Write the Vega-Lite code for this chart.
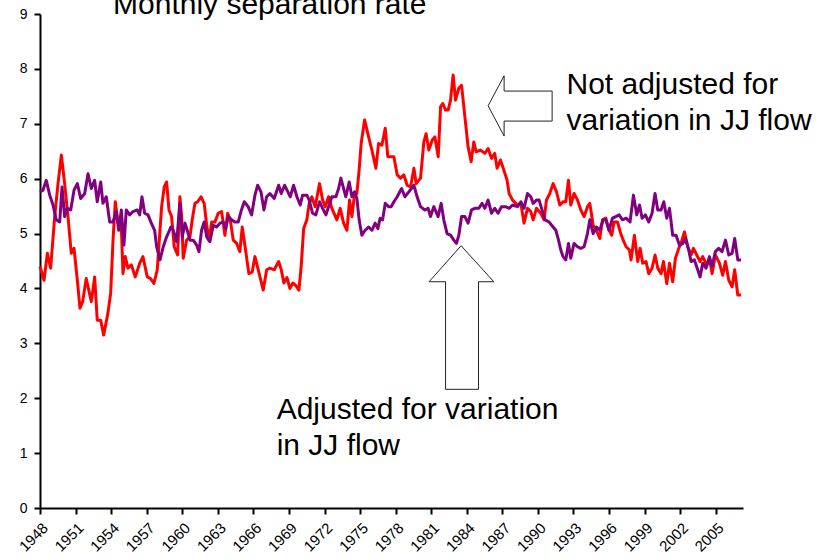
{
  "$schema": "https://vega.github.io/schema/vega-lite/v6.json",
  "width": 703,
  "height": 494,
  "autosize": {"type": "none"},
  "padding": {"left": 40, "top": 14, "right": 77, "bottom": 52},
  "background": "white",
  "config": {
    "view": {"stroke": null},
    "font": "Liberation Sans",
    "axis": {"grid": false, "domainColor": "black", "domainWidth": 2, "tickColor": "black", "tickWidth": 2, "labelColor": "black", "labelFont": "Arial", "labelFontSize": 15, "labelOverlap": false, "title": null}
  },
  "datasets": {
    "notAdjusted": [
      {"year":1948.00,"rate":4.40},{"year":1948.34,"rate":4.15},{"year":1948.62,"rate":4.64},{"year":1948.90,"rate":4.37},{"year":1949.24,"rate":5.31},{"year":1949.52,"rate":5.91},{"year":1949.80,"rate":6.43},{"year":1950.08,"rate":5.91},{"year":1950.36,"rate":5.31},{"year":1950.64,"rate":4.64},{"year":1950.87,"rate":4.73},{"year":1951.15,"rate":4.15},{"year":1951.37,"rate":3.64},{"year":1951.60,"rate":3.76},{"year":1951.90,"rate":4.18},{"year":1952.33,"rate":3.76},{"year":1952.61,"rate":4.21},{"year":1952.83,"rate":3.42},{"year":1953.12,"rate":3.42},{"year":1953.37,"rate":3.15},{"year":1953.73,"rate":3.55},{"year":1953.96,"rate":3.91},{"year":1954.16,"rate":4.88},{"year":1954.35,"rate":5.58},{"year":1954.58,"rate":5.19},{"year":1954.86,"rate":5.12},{"year":1955.00,"rate":4.27},{"year":1955.19,"rate":4.58},{"year":1955.42,"rate":4.37},{"year":1955.70,"rate":4.43},{"year":1956.04,"rate":4.21},{"year":1956.41,"rate":4.46},{"year":1956.68,"rate":4.58},{"year":1957.05,"rate":4.21},{"year":1957.33,"rate":4.18},{"year":1957.61,"rate":4.09},{"year":1957.89,"rate":4.34},{"year":1958.26,"rate":5.49},{"year":1958.48,"rate":5.85},{"year":1958.68,"rate":5.94},{"year":1958.88,"rate":5.43},{"year":1959.10,"rate":5.31},{"year":1959.32,"rate":4.76},{"year":1959.61,"rate":4.61},{"year":1959.80,"rate":5.67},{"year":1959.95,"rate":5.31},{"year":1960.08,"rate":4.55},{"year":1960.37,"rate":4.88},{"year":1960.65,"rate":4.94},{"year":1960.84,"rate":5.25},{"year":1961.07,"rate":5.55},{"year":1961.30,"rate":5.58},{"year":1961.58,"rate":5.67},{"year":1961.85,"rate":5.55},{"year":1962.06,"rate":5.15},{"year":1962.25,"rate":4.88},{"year":1962.48,"rate":5.21},{"year":1962.76,"rate":5.21},{"year":1963.03,"rate":5.37},{"year":1963.32,"rate":5.40},{"year":1963.60,"rate":4.97},{"year":1963.83,"rate":5.37},{"year":1964.05,"rate":5.25},{"year":1964.30,"rate":4.88},{"year":1964.59,"rate":4.82},{"year":1964.86,"rate":4.67},{"year":1965.06,"rate":5.12},{"year":1965.34,"rate":4.70},{"year":1965.62,"rate":4.27},{"year":1965.90,"rate":4.30},{"year":1966.13,"rate":4.58},{"year":1966.41,"rate":4.34},{"year":1966.83,"rate":3.97},{"year":1967.12,"rate":4.34},{"year":1967.39,"rate":4.37},{"year":1967.76,"rate":4.34},{"year":1968.13,"rate":4.49},{"year":1968.35,"rate":4.34},{"year":1968.57,"rate":4.10},{"year":1968.83,"rate":4.20},{"year":1969.08,"rate":4.00},{"year":1969.33,"rate":4.10},{"year":1969.59,"rate":4.05},{"year":1969.84,"rate":3.97},{"year":1970.03,"rate":4.40},{"year":1970.24,"rate":5.09},{"year":1970.51,"rate":5.25},{"year":1970.71,"rate":5.55},{"year":1970.93,"rate":5.67},{"year":1971.21,"rate":5.49},{"year":1971.58,"rate":5.91},{"year":1971.84,"rate":5.61},{"year":1972.06,"rate":5.49},{"year":1972.34,"rate":5.67},{"year":1972.62,"rate":5.46},{"year":1973.04,"rate":5.25},{"year":1973.32,"rate":5.46},{"year":1973.61,"rate":5.19},{"year":1973.89,"rate":5.06},{"year":1974.11,"rate":5.61},{"year":1974.31,"rate":5.31},{"year":1974.54,"rate":5.73},{"year":1974.73,"rate":5.73},{"year":1974.92,"rate":6.16},{"year":1975.09,"rate":6.64},{"year":1975.38,"rate":7.07},{"year":1975.72,"rate":6.76},{"year":1976.00,"rate":6.52},{"year":1976.33,"rate":6.19},{"year":1976.56,"rate":6.64},{"year":1976.84,"rate":6.61},{"year":1977.12,"rate":6.92},{"year":1977.34,"rate":6.40},{"year":1977.62,"rate":6.40},{"year":1977.85,"rate":6.40},{"year":1978.13,"rate":6.07},{"year":1978.41,"rate":6.01},{"year":1978.69,"rate":6.07},{"year":1978.97,"rate":5.88},{"year":1979.26,"rate":5.85},{"year":1979.54,"rate":6.19},{"year":1979.73,"rate":5.91},{"year":1980.10,"rate":6.01},{"year":1980.38,"rate":6.67},{"year":1980.57,"rate":6.82},{"year":1980.80,"rate":6.52},{"year":1981.08,"rate":6.70},{"year":1981.31,"rate":6.76},{"year":1981.59,"rate":6.40},{"year":1981.79,"rate":7.31},{"year":1981.98,"rate":7.37},{"year":1982.21,"rate":7.25},{"year":1982.43,"rate":7.25},{"year":1982.63,"rate":7.43},{"year":1982.85,"rate":7.89},{"year":1983.05,"rate":7.43},{"year":1983.33,"rate":7.65},{"year":1983.56,"rate":7.70},{"year":1983.84,"rate":7.13},{"year":1984.11,"rate":6.58},{"year":1984.37,"rate":6.31},{"year":1984.59,"rate":6.67},{"year":1984.79,"rate":6.49},{"year":1985.16,"rate":6.52},{"year":1985.52,"rate":6.46},{"year":1985.80,"rate":6.55},{"year":1986.09,"rate":6.37},{"year":1986.36,"rate":6.46},{"year":1986.56,"rate":6.19},{"year":1986.84,"rate":6.34},{"year":1987.12,"rate":6.16},{"year":1987.40,"rate":5.97},{"year":1987.57,"rate":5.73},{"year":1987.86,"rate":5.61},{"year":1988.28,"rate":5.52},{"year":1988.56,"rate":5.55},{"year":1988.83,"rate":5.19},{"year":1989.12,"rate":5.46},{"year":1989.40,"rate":5.40},{"year":1989.60,"rate":5.25},{"year":1989.88,"rate":5.46},{"year":1990.24,"rate":5.37},{"year":1990.52,"rate":5.25},{"year":1990.72,"rate":5.61},{"year":1991.00,"rate":5.73},{"year":1991.28,"rate":5.91},{"year":1991.57,"rate":5.76},{"year":1991.85,"rate":5.52},{"year":1992.12,"rate":5.58},{"year":1992.35,"rate":5.58},{"year":1992.58,"rate":5.97},{"year":1992.77,"rate":5.52},{"year":1993.05,"rate":5.73},{"year":1993.34,"rate":5.61},{"year":1993.62,"rate":5.43},{"year":1993.90,"rate":5.31},{"year":1994.18,"rate":5.49},{"year":1994.38,"rate":5.55},{"year":1994.66,"rate":5.15},{"year":1994.94,"rate":5.06},{"year":1995.22,"rate":4.91},{"year":1995.45,"rate":5.25},{"year":1995.73,"rate":5.28},{"year":1996.00,"rate":5.06},{"year":1996.23,"rate":4.97},{"year":1996.42,"rate":5.21},{"year":1996.71,"rate":5.21},{"year":1996.99,"rate":5.00},{"year":1997.16,"rate":4.90},{"year":1997.44,"rate":4.76},{"year":1997.72,"rate":4.70},{"year":1997.86,"rate":4.52},{"year":1998.14,"rate":4.97},{"year":1998.42,"rate":4.49},{"year":1998.62,"rate":4.73},{"year":1998.84,"rate":4.46},{"year":1999.12,"rate":4.49},{"year":1999.35,"rate":4.27},{"year":1999.63,"rate":4.37},{"year":1999.88,"rate":4.61},{"year":2000.11,"rate":4.37},{"year":2000.39,"rate":4.27},{"year":2000.59,"rate":4.49},{"year":2000.87,"rate":4.09},{"year":2001.10,"rate":4.46},{"year":2001.37,"rate":4.12},{"year":2001.60,"rate":4.55},{"year":2001.88,"rate":4.73},{"year":2002.07,"rate":4.82},{"year":2002.36,"rate":5.03},{"year":2002.64,"rate":4.76},{"year":2002.92,"rate":4.61},{"year":2003.12,"rate":4.73},{"year":2003.40,"rate":4.61},{"year":2003.68,"rate":4.49},{"year":2003.90,"rate":4.58},{"year":2004.24,"rate":4.43},{"year":2004.52,"rate":4.49},{"year":2004.69,"rate":4.27},{"year":2004.97,"rate":4.61},{"year":2005.31,"rate":4.46},{"year":2005.59,"rate":4.24},{"year":2005.82,"rate":4.49},{"year":2006.10,"rate":4.15},{"year":2006.38,"rate":4.03},{"year":2006.60,"rate":4.34},{"year":2006.86,"rate":3.88},{"year":2007.13,"rate":3.88}
    ],
    "adjusted": [
      {"year":1948.00,"rate":5.76},{"year":1948.25,"rate":5.79},{"year":1948.53,"rate":5.97},{"year":1948.82,"rate":5.70},{"year":1949.10,"rate":5.52},{"year":1949.37,"rate":5.25},{"year":1949.66,"rate":5.21},{"year":1949.86,"rate":5.85},{"year":1950.08,"rate":5.31},{"year":1950.30,"rate":5.46},{"year":1950.59,"rate":5.43},{"year":1950.87,"rate":5.79},{"year":1951.15,"rate":5.91},{"year":1951.43,"rate":5.64},{"year":1951.77,"rate":5.73},{"year":1952.05,"rate":6.09},{"year":1952.33,"rate":5.82},{"year":1952.61,"rate":5.97},{"year":1952.83,"rate":5.58},{"year":1953.12,"rate":5.94},{"year":1953.31,"rate":5.55},{"year":1953.59,"rate":5.67},{"year":1953.88,"rate":5.21},{"year":1954.16,"rate":5.21},{"year":1954.43,"rate":5.40},{"year":1954.64,"rate":5.06},{"year":1954.86,"rate":5.43},{"year":1955.08,"rate":4.79},{"year":1955.28,"rate":5.43},{"year":1955.56,"rate":5.34},{"year":1955.84,"rate":5.40},{"year":1956.20,"rate":5.43},{"year":1956.41,"rate":5.34},{"year":1956.60,"rate":5.67},{"year":1956.83,"rate":5.37},{"year":1957.11,"rate":5.34},{"year":1957.39,"rate":5.19},{"year":1957.67,"rate":5.06},{"year":1957.84,"rate":4.76},{"year":1958.12,"rate":4.52},{"year":1958.40,"rate":4.76},{"year":1958.68,"rate":4.94},{"year":1959.05,"rate":5.12},{"year":1959.24,"rate":5.06},{"year":1959.53,"rate":4.85},{"year":1959.80,"rate":5.55},{"year":1960.00,"rate":4.94},{"year":1960.23,"rate":5.19},{"year":1960.42,"rate":5.06},{"year":1960.65,"rate":4.88},{"year":1960.93,"rate":4.88},{"year":1961.21,"rate":4.79},{"year":1961.41,"rate":4.67},{"year":1961.63,"rate":5.06},{"year":1961.85,"rate":5.21},{"year":1962.06,"rate":4.94},{"year":1962.33,"rate":4.85},{"year":1962.61,"rate":5.15},{"year":1962.90,"rate":5.12},{"year":1963.18,"rate":5.19},{"year":1963.46,"rate":5.21},{"year":1963.66,"rate":5.09},{"year":1963.88,"rate":5.31},{"year":1964.16,"rate":5.25},{"year":1964.44,"rate":5.21},{"year":1964.72,"rate":5.21},{"year":1964.95,"rate":5.40},{"year":1965.23,"rate":5.58},{"year":1965.56,"rate":5.49},{"year":1965.85,"rate":5.34},{"year":1966.13,"rate":5.70},{"year":1966.36,"rate":5.88},{"year":1966.64,"rate":5.76},{"year":1966.89,"rate":5.43},{"year":1967.12,"rate":5.67},{"year":1967.39,"rate":5.73},{"year":1967.76,"rate":5.64},{"year":1968.13,"rate":5.88},{"year":1968.35,"rate":5.73},{"year":1968.63,"rate":5.88},{"year":1968.91,"rate":5.76},{"year":1969.11,"rate":5.67},{"year":1969.39,"rate":5.88},{"year":1969.67,"rate":5.67},{"year":1969.95,"rate":5.52},{"year":1970.15,"rate":5.70},{"year":1970.51,"rate":5.70},{"year":1970.71,"rate":5.61},{"year":1970.99,"rate":5.37},{"year":1971.27,"rate":5.34},{"year":1971.58,"rate":5.58},{"year":1971.84,"rate":5.46},{"year":1972.12,"rate":5.34},{"year":1972.39,"rate":5.52},{"year":1972.62,"rate":5.67},{"year":1972.96,"rate":5.67},{"year":1973.19,"rate":5.82},{"year":1973.38,"rate":6.01},{"year":1973.61,"rate":5.82},{"year":1973.80,"rate":5.67},{"year":1974.08,"rate":5.94},{"year":1974.31,"rate":5.67},{"year":1974.54,"rate":5.76},{"year":1974.73,"rate":5.64},{"year":1974.92,"rate":5.25},{"year":1975.15,"rate":4.97},{"year":1975.43,"rate":5.06},{"year":1975.72,"rate":5.12},{"year":1976.00,"rate":5.06},{"year":1976.27,"rate":5.19},{"year":1976.50,"rate":5.09},{"year":1976.69,"rate":5.28},{"year":1976.90,"rate":5.25},{"year":1977.12,"rate":5.55},{"year":1977.40,"rate":5.49},{"year":1977.62,"rate":5.49},{"year":1977.85,"rate":5.58},{"year":1978.13,"rate":5.67},{"year":1978.50,"rate":5.82},{"year":1978.78,"rate":5.67},{"year":1979.11,"rate":5.76},{"year":1979.54,"rate":5.88},{"year":1979.81,"rate":5.67},{"year":1980.10,"rate":5.49},{"year":1980.46,"rate":5.43},{"year":1980.74,"rate":5.46},{"year":1980.94,"rate":5.31},{"year":1981.22,"rate":5.49},{"year":1981.58,"rate":5.31},{"year":1981.84,"rate":5.55},{"year":1982.06,"rate":5.25},{"year":1982.34,"rate":5.00},{"year":1982.63,"rate":4.97},{"year":1982.91,"rate":4.88},{"year":1983.13,"rate":4.82},{"year":1983.33,"rate":4.97},{"year":1983.56,"rate":5.31},{"year":1983.84,"rate":5.31},{"year":1984.11,"rate":5.19},{"year":1984.40,"rate":5.43},{"year":1984.68,"rate":5.46},{"year":1985.02,"rate":5.46},{"year":1985.29,"rate":5.55},{"year":1985.52,"rate":5.46},{"year":1985.80,"rate":5.61},{"year":1986.09,"rate":5.37},{"year":1986.36,"rate":5.46},{"year":1986.64,"rate":5.37},{"year":1986.93,"rate":5.49},{"year":1987.27,"rate":5.49},{"year":1987.57,"rate":5.46},{"year":1987.86,"rate":5.52},{"year":1988.28,"rate":5.49},{"year":1988.56,"rate":5.58},{"year":1988.83,"rate":5.46},{"year":1989.12,"rate":5.73},{"year":1989.40,"rate":5.67},{"year":1989.60,"rate":5.55},{"year":1989.88,"rate":5.61},{"year":1990.10,"rate":5.61},{"year":1990.39,"rate":5.40},{"year":1990.61,"rate":5.25},{"year":1990.94,"rate":5.21},{"year":1991.28,"rate":5.12},{"year":1991.51,"rate":5.06},{"year":1991.74,"rate":4.88},{"year":1991.93,"rate":4.70},{"year":1992.12,"rate":4.58},{"year":1992.35,"rate":4.52},{"year":1992.58,"rate":4.82},{"year":1992.77,"rate":4.55},{"year":1993.05,"rate":4.82},{"year":1993.34,"rate":4.76},{"year":1993.62,"rate":4.73},{"year":1993.90,"rate":4.76},{"year":1994.18,"rate":5.00},{"year":1994.38,"rate":5.25},{"year":1994.66,"rate":5.00},{"year":1994.94,"rate":5.12},{"year":1995.22,"rate":5.06},{"year":1995.50,"rate":5.25},{"year":1995.73,"rate":5.25},{"year":1996.00,"rate":5.06},{"year":1996.29,"rate":5.28},{"year":1996.57,"rate":5.31},{"year":1996.85,"rate":5.34},{"year":1997.13,"rate":5.25},{"year":1997.44,"rate":5.28},{"year":1997.77,"rate":5.21},{"year":1998.06,"rate":5.70},{"year":1998.34,"rate":5.34},{"year":1998.57,"rate":5.52},{"year":1998.79,"rate":5.28},{"year":1999.07,"rate":5.34},{"year":1999.35,"rate":5.21},{"year":1999.63,"rate":5.37},{"year":1999.88,"rate":5.73},{"year":2000.11,"rate":5.43},{"year":2000.39,"rate":5.43},{"year":2000.62,"rate":5.58},{"year":2000.87,"rate":5.28},{"year":2001.10,"rate":5.46},{"year":2001.37,"rate":4.97},{"year":2001.65,"rate":4.97},{"year":2001.94,"rate":4.79},{"year":2002.22,"rate":4.82},{"year":2002.44,"rate":4.91},{"year":2002.72,"rate":4.70},{"year":2002.92,"rate":4.49},{"year":2003.20,"rate":4.52},{"year":2003.48,"rate":4.34},{"year":2003.68,"rate":4.21},{"year":2003.90,"rate":4.46},{"year":2004.18,"rate":4.37},{"year":2004.47,"rate":4.58},{"year":2004.69,"rate":4.40},{"year":2004.97,"rate":4.67},{"year":2005.25,"rate":4.73},{"year":2005.53,"rate":4.67},{"year":2005.82,"rate":4.88},{"year":2006.10,"rate":4.61},{"year":2006.38,"rate":4.64},{"year":2006.60,"rate":4.91},{"year":2006.86,"rate":4.52},{"year":2007.13,"rate":4.52}
    ],
    "arrows": [
      {"arrow":"up","order":0,"year":1983.52,"rate":4.778},
      {"arrow":"up","order":1,"year":1986.28,"rate":4.122},
      {"arrow":"up","order":2,"year":1984.99,"rate":4.122},
      {"arrow":"up","order":3,"year":1984.99,"rate":2.162},
      {"arrow":"up","order":4,"year":1982.21,"rate":2.162},
      {"arrow":"up","order":5,"year":1982.21,"rate":4.122},
      {"arrow":"up","order":6,"year":1980.82,"rate":4.122},
      {"arrow":"up","order":7,"year":1983.52,"rate":4.778},
      {"arrow":"left","order":0,"year":1985.80,"rate":7.328},
      {"arrow":"left","order":1,"year":1987.15,"rate":7.874},
      {"arrow":"left","order":2,"year":1987.15,"rate":7.596},
      {"arrow":"left","order":3,"year":1991.20,"rate":7.596},
      {"arrow":"left","order":4,"year":1991.20,"rate":7.049},
      {"arrow":"left","order":5,"year":1987.15,"rate":7.049},
      {"arrow":"left","order":6,"year":1987.15,"rate":6.776},
      {"arrow":"left","order":7,"year":1985.80,"rate":7.328}
    ],
    "labels": [
      {"text":"Monthly separation rate","year":1954.16,"rate":9.007},
      {"text":"Not adjusted for","year":1992.41,"rate":7.536},
      {"text":"variation in JJ flow","year":1992.41,"rate":6.885},
      {"text":"Adjusted for variation","year":1967.96,"rate":1.616},
      {"text":"in JJ flow","year":1967.96,"rate":0.965}
    ]
  },
  "encoding": {
    "x": {"field": "year", "type": "quantitative", "scale": {"domain": [1948, 2007.3], "nice": false, "zero": false},
      "axis": {"values": [1948,1951,1954,1957,1960,1963,1966,1969,1972,1975,1978,1981,1984,1987,1990,1993,1996,1999,2002,2005], "format": "d", "labelAngle": -45, "tickSize": 6, "labelPadding": 6, "labelFontSize": 15, "labelOverlap": false}},
    "y": {"field": "rate", "type": "quantitative", "scale": {"domain": [0, 9], "nice": false},
      "axis": {"values": [0,1,2,3,4,5,6,7,8,9], "format": "d", "tickSize": 6, "labelPadding": 7, "labelFontSize": 14, "labelOverlap": false}}
  },
  "layer": [
    {"data": {"name": "notAdjusted"}, "mark": {"type": "line", "color": "#FF0000", "strokeWidth": 3, "strokeJoin": "round"}},
    {"data": {"name": "adjusted"}, "mark": {"type": "line", "color": "#800080", "strokeWidth": 3, "strokeJoin": "round"}},
    {"data": {"name": "arrows"}, "mark": {"type": "line", "color": "#222222", "strokeWidth": 1},
      "encoding": {"detail": {"field": "arrow"}, "order": {"field": "order", "type": "quantitative"}}},
    {"data": {"name": "labels"}, "mark": {"type": "text", "align": "left", "baseline": "alphabetic", "fontSize": 30, "font": "Liberation Sans", "color": "black"},
      "encoding": {"text": {"field": "text"}}}
  ]
}
